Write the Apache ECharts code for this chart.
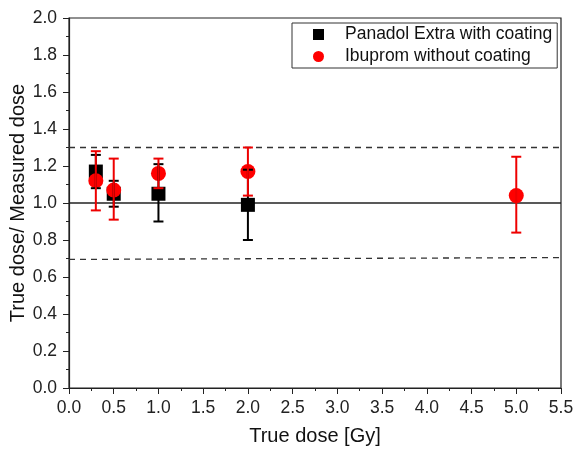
<!DOCTYPE html>
<html>
<head>
<meta charset="utf-8">
<script src="https://cdn.jsdelivr.net/npm/echarts@6/dist/echarts.min.js"></script>
<style>
  html, body { margin: 0; padding: 0; background: #fff; }
  #chart { width: 575px; height: 449px; }
</style>
</head>
<body>
<div id="chart"></div>
<script>
// values
const doses = [0.3, 0.5, 1.0, 2.0];
const panadolMean = [1.17, 1.05, 1.05, 0.99];
const panadolLow = [1.08, 0.98, 0.90, 0.80];
const panadolHigh = [1.26, 1.12, 1.21, 1.18];

const ibuDoses = [0.3, 0.5, 1.0, 2.0, 5.0];
const ibuMean = [1.12, 1.07, 1.16, 1.17, 1.04];
const ibuLow = [0.96, 0.91, 1.08, 1.04, 0.84];
const ibuHigh = [1.28, 1.24, 1.24, 1.30, 1.25];

const refX = [0, 5.5];
const upperLimit = [1.3, 1.3];
const unity = [1.0, 1.0];
const lowerLimit = [0.695, 0.705];

const font = 'Liberation Sans, Arial, sans-serif';

function errorBars(color) {
  return function (params, api) {
    const x = api.value(0);
    const lo = api.coord([x, api.value(1)]);
    const hi = api.coord([x, api.value(2)]);
    const cap = 5;
    const style = { stroke: color, lineWidth: 2 };
    return {
      type: 'group',
      children: [
        { type: 'line', shape: { x1: lo[0], y1: lo[1], x2: hi[0], y2: hi[1] }, style },
        { type: 'line', shape: { x1: lo[0] - cap, y1: lo[1], x2: lo[0] + cap, y2: lo[1] }, style },
        { type: 'line', shape: { x1: hi[0] - cap, y1: hi[1], x2: hi[0] + cap, y2: hi[1] }, style }
      ]
    };
  };
}

const chart = echarts.init(document.getElementById('chart'));

const option = {
  animation: false,
  textStyle: { fontFamily: font },
  grid: {
    left: 69, right: 14, top: 18, bottom: 61,
    outerBoundsMode: 'none',
    show: true, borderColor: '#222', borderWidth: 1.2, backgroundColor: 'transparent'
  },
  legend: {
    orient: 'vertical',
    left: 292, top: 23,
    padding: [1, 5, 1, 21],
    itemGap: 1,
    itemWidth: 11, itemHeight: 11,
    borderColor: '#333', borderWidth: 1,
    textStyle: { fontSize: 17.5, lineHeight: 21, color: '#111', fontFamily: font, padding: [0, 0, 0, 16] },
    data: [
      { name: 'Panadol Extra with coating', icon: 'rect' },
      { name: 'Ibuprom without coating', icon: 'circle' }
    ]
  },
  xAxis: {
    type: 'value',
    min: 0, max: 5.5, interval: 0.5,
    name: 'True dose [Gy]',
    nameLocation: 'middle', nameGap: 38,
    nameMoveOverlap: false,
    nameTextStyle: { fontSize: 20, color: '#111' },
    axisLine: { onZero: false, lineStyle: { color: '#222', width: 1.2 } },
    axisTick: { show: true, length: 6, lineStyle: { color: '#222' } },
    minorTick: { show: true, splitNumber: 2, length: 3, lineStyle: { color: '#222' } },
    splitLine: { show: false },
    axisLabel: { fontSize: 17.5, color: '#222', margin: 11, formatter: v => v.toFixed(1) }
  },
  yAxis: {
    type: 'value',
    min: 0, max: 2.0, interval: 0.2,
    name: 'True dose/ Measured dose',
    nameLocation: 'middle', nameGap: 41,
    nameMoveOverlap: false,
    nameTextStyle: { fontSize: 20, color: '#111' },
    axisLine: { show: true, lineStyle: { color: '#222', width: 1.2 } },
    axisTick: { show: true, length: 6, lineStyle: { color: '#222' } },
    minorTick: { show: true, splitNumber: 2, length: 3, lineStyle: { color: '#222' } },
    splitLine: { show: false },
    axisLabel: { fontSize: 17.5, color: '#222', margin: 12, formatter: v => v.toFixed(1) }
  },
  series: [
    {
      type: 'line', silent: true, symbol: 'none', z: 1,
      data: refX.map((x, i) => [x, upperLimit[i]]),
      lineStyle: { color: '#333', width: 1.3, type: [6, 5] }
    },
    {
      type: 'line', silent: true, symbol: 'none', z: 1,
      data: refX.map((x, i) => [x, unity[i]]),
      lineStyle: { color: '#222', width: 1.3 }
    },
    {
      type: 'line', silent: true, symbol: 'none', z: 1,
      data: refX.map((x, i) => [x, lowerLimit[i]]),
      lineStyle: { color: '#333', width: 1.3, type: [6, 5] }
    },
    {
      name: 'Panadol Extra with coating',
      type: 'scatter', symbol: 'rect', symbolSize: 14, z: 2,
      itemStyle: { color: '#000', opacity: 1 },
      data: doses.map((x, i) => [x, panadolMean[i]])
    },
    {
      name: 'Ibuprom without coating',
      type: 'scatter', symbol: 'circle', symbolSize: 15, z: 3,
      itemStyle: { color: '#f00', opacity: 1 },
      data: ibuDoses.map((x, i) => [x, ibuMean[i]])
    },
    {
      type: 'custom', silent: true, z: 4,
      renderItem: errorBars('#000'),
      data: doses.map((x, i) => [x, panadolLow[i], panadolHigh[i]])
    },
    {
      type: 'custom', silent: true, z: 5,
      renderItem: errorBars('#e00'),
      data: ibuDoses.map((x, i) => [x, ibuLow[i], ibuHigh[i]])
    }
  ]
};

chart.setOption(option);
</script>
</body>
</html>
